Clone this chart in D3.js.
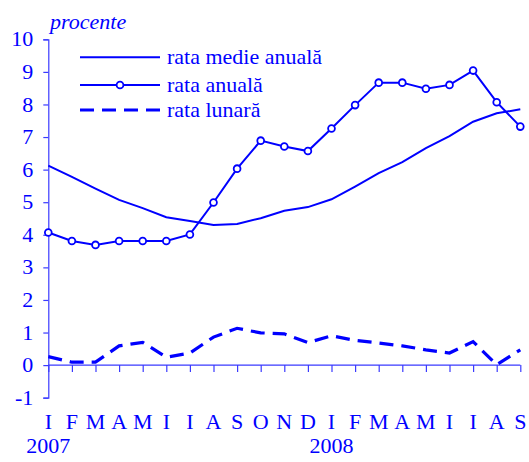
<!DOCTYPE html>
<html>
<head>
<meta charset="utf-8">
<script src="https://cdn.jsdelivr.net/npm/d3@7"></script>
<style>
  html, body { margin: 0; padding: 0; background: #fff; }
  svg { display: block; }
  text { font-family: "Liberation Serif", "Times New Roman", serif; fill: #0000ff; }
</style>
</head>
<body>
<svg id="chart" width="529" height="462"></svg>
<script>
// ---- data ----
const months = ["I","F","M","A","M","I","I","A","S","O","N","D","I","F","M","A","M","I","I","A","S"];
const years = [{label: "2007", index: 0}, {label: "2008", index: 12}];
const yTicks = [-1, 0, 1, 2, 3, 4, 5, 6, 7, 8, 9, 10];
const seriesNames = ["rata medie anuală", "rata anuală", "rata lunară"];
const rataMedieAnuala = [6.12, 5.78, 5.42, 5.07, 4.82, 4.54, 4.42, 4.30, 4.33, 4.51, 4.74, 4.85, 5.09, 5.48, 5.89, 6.23, 6.66, 7.03, 7.47, 7.73, 7.85];
const rataAnuala = [4.07, 3.81, 3.69, 3.81, 3.81, 3.81, 4.01, 4.99, 6.03, 6.89, 6.71, 6.57, 7.26, 7.98, 8.67, 8.67, 8.48, 8.60, 9.04, 8.07, 7.32];
const rataLunara = [0.26, 0.09, 0.09, 0.59, 0.70, 0.24, 0.37, 0.86, 1.13, 0.99, 0.96, 0.69, 0.90, 0.76, 0.68, 0.59, 0.47, 0.37, 0.72, 0.01, 0.47];

// ---- layout ----
const blue = "#0000ff";
const axisBlue = "#3a3aff";
const fontSize = 22;
const svg = d3.select("#chart");

const x = d3.scaleLinear().domain([0, months.length - 1]).range([48.3, 520.3]);
const y = d3.scaleLinear().domain([-1, 10]).range([397.7, 39.3]);

const idx = d3.range(months.length);

// Y axis
const yAxis = d3.axisLeft(y).tickValues(yTicks).tickSize(5).tickPadding(10).tickFormat(d => String(d));
const gy = svg.append("g").attr("transform", `translate(${x(0)},0)`).call(yAxis);
gy.select(".domain").attr("stroke", axisBlue).attr("stroke-width", 1.2);
gy.selectAll(".tick line").attr("stroke", axisBlue).attr("stroke-width", 1.2);
gy.selectAll(".tick text").attr("fill", blue).style("font-size", fontSize + "px")
  .style("font-family", "'Liberation Serif', serif").attr("dy", "0.3em");

// X axis at zero
const xAxis = d3.axisBottom(x).tickValues(idx).tickSize(7).tickFormat(() => "");
const gx = svg.append("g").attr("transform", `translate(0,${y(0)})`).call(xAxis);
gx.select(".domain").attr("stroke", axisBlue).attr("stroke-width", 1.2).attr("d", `M${x(0)},0H${x(months.length - 1)}`);
gx.selectAll(".tick line").attr("stroke", axisBlue).attr("stroke-width", 1.2);

// month labels
svg.append("g").selectAll("text").data(months).join("text")
  .attr("x", (d, i) => x(i)).attr("y", 428.5)
  .attr("text-anchor", "middle").style("font-size", fontSize + "px")
  .text(d => d);

// year labels
svg.append("g").selectAll("text").data(years).join("text")
  .attr("x", d => x(d.index)).attr("y", 453)
  .attr("text-anchor", "middle").style("font-size", fontSize + "px")
  .text(d => d.label);

// unit label
svg.append("text").attr("x", 50).attr("y", 29).style("font-size", fontSize + "px")
  .style("font-style", "italic").text("procente");

const line = d3.line().x((d, i) => x(i)).y(d => y(d));

// monthly (dashed)
svg.append("path").datum(rataLunara).attr("d", line)
  .attr("fill", "none").attr("stroke", blue).attr("stroke-width", 3.2)
  .attr("stroke-dasharray", "14,8");

// average annual
svg.append("path").datum(rataMedieAnuala).attr("d", line)
  .attr("fill", "none").attr("stroke", blue).attr("stroke-width", 2);

// annual with markers
svg.append("path").datum(rataAnuala).attr("d", line)
  .attr("fill", "none").attr("stroke", blue).attr("stroke-width", 2);
svg.append("g").selectAll("circle").data(rataAnuala).join("circle")
  .attr("cx", (d, i) => x(i)).attr("cy", d => y(d)).attr("r", 3.4)
  .attr("fill", "#fff").attr("stroke", blue).attr("stroke-width", 1.8);

// legend
const legendRows = [57.3, 85, 110];
const lg = svg.append("g");
seriesNames.forEach((name, i) => {
  const ly = legendRows[i];
  const l = lg.append("line").attr("x1", 80).attr("x2", 160).attr("y1", ly).attr("y2", ly)
    .attr("stroke", blue).attr("stroke-width", i === 2 ? 3.2 : 2);
  if (i === 2) l.attr("stroke-dasharray", "14,8");
  if (i === 1) lg.append("circle").attr("cx", 120).attr("cy", ly).attr("r", 3.4)
    .attr("fill", "#fff").attr("stroke", blue).attr("stroke-width", 1.8);
  lg.append("text").attr("x", 167).attr("y", ly + 6.8).style("font-size", fontSize + "px").text(name);
});
</script>
</body>
</html>
